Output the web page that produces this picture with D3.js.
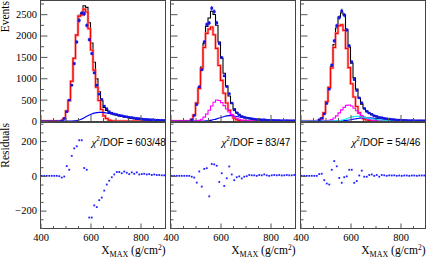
<!DOCTYPE html>
<html><head><meta charset="utf-8">
<script src="https://cdn.jsdelivr.net/npm/d3@7"></script>
<style>body{margin:0;background:#fff}svg{display:block}</style>
</head><body><svg id="c" width="426" height="259"></svg>
<script>
const xmax = [405,415,425,435,445,455,465,475,485,495,505,515,525,535,545,555,565,575,585,595,605,615,625,635,645,655,665,675,685,695,705,715,725,735,745,755,765,775,785,795,805,815,825,835,845,855,865,875,885,895];

// Panel 1
const data1 = [0,0,0,0,0,0,0,0,5,60,217,489,839,1344,1849,2354,2524,2510,2237,1903,1578,1126,839,629,505,350,287,217,185,165,150,135,122,110,98,88,78,70,62,55,48,42,37,32,28,24,21,18,16,14];
const black1 = [0,0,0,0,0,0,0,0,0,60,230,480,930,1473,2020,2475,2528,2698,2660,2300,1825,1375,987,683,473,317,248,196,168,150,135,120,106,93,81,70,60,51,43,36,30,25,21,17,14,11,9,7,6,5];
const red1 = [0,0,0,0,0,0,0,0,0,60,230,480,930,1470,2010,2450,2480,2620,2550,2160,1660,1190,790,480,270,120,60,20,5,0,0,0,0,0,0,0,0,0,0,0,0,0,0,0,0,0,0,0,0,0];
const blue1 = [0,0,0,0,0,0,0,0,0,0,0,0,0,3,10,25,48,78,110,140,165,185,197,203,203,197,188,176,163,150,135,120,106,93,81,70,60,51,43,36,30,25,21,17,14,11,9,7,6,5];
const res1 = [0,0,0,0,0,0,0,-2,-10,-4,56,35,115,158,170,205,205,45,35,-240,-240,-170,-180,-140,-125,-85,-50,-28,-8,8,22,22,15,25,18,10,20,12,20,8,10,12,8,10,5,8,5,5,3,3];

// Panel 2
const data2 = [0,0,0,0,0,0,0,0,30,130,386,800,1198,1850,2259,2294,2638,2559,2298,1815,1485,1058,806,639,420,259,192,144,100,85,71,65,53,44,35,35,28,29,20,14,15,15,11,11,7,7,8,6,5,7];
const black2 = [0,0,0,0,0,0,0,0,35,140,425,775,1260,1810,2215,2412,2570,2493,2240,1850,1470,1116,820,585,412,284,200,147,115,90,73,60,50,41,35,30,25,21,17,14,12,10,8,6,5,4,3,3,2,2];
const red2 = [0,0,0,0,0,0,0,0,35,140,420,760,1220,1720,2050,2150,2200,2020,1700,1300,950,650,420,250,140,70,30,12,5,0,0,0,0,0,0,0,0,0,0,0,0,0,0,0,0,0,0,0,0,0];
const magenta2 = [0,0,0,0,0,0,0,0,0,0,5,15,40,90,160,250,350,440,490,480,430,360,280,210,150,100,65,40,25,15,8,4,2,0,0,0,0,0,0,0,0,0,0,0,0,0,0,0,0,0];
const blue2 = [0,0,0,0,0,0,0,0,0,0,0,0,0,0,5,12,20,33,50,70,90,106,120,125,122,114,105,95,85,75,65,56,48,41,35,30,25,21,17,14,12,10,8,6,5,4,3,3,2,2];
const res2 = [0,0,0,0,0,0,0,0,-5,-10,-39,25,-62,40,44,-118,68,66,58,-35,15,-58,-14,54,8,-25,-8,-3,-15,-5,-2,5,3,3,0,5,3,8,3,0,3,5,3,5,2,3,5,3,3,5];

// Panel 3
const data3 = [0,0,0,0,0,0,0,28,67,165,411,745,1310,1875,2230,2420,2575,2480,2132,1760,1385,970,715,540,425,293,225,186,157,121,107,80,77,63,51,46,38,33,24,22,16,16,13,8,9,7,4,6,5,5];
const black3 = [0,0,0,0,0,0,0,18,55,190,455,795,1275,1790,2175,2431,2535,2485,2135,1725,1350,1010,745,538,395,298,230,181,149,121,102,85,72,60,51,43,36,30,24,20,16,14,11,8,7,5,4,4,3,3];
const red3 = [0,0,0,0,0,0,0,18,55,190,450,780,1240,1720,2050,2230,2250,2120,1700,1250,870,560,340,190,100,50,22,8,3,0,0,0,0,0,0,0,0,0,0,0,0,0,0,0,0,0,0,0,0,0];
const magenta3 = [0,0,0,0,0,0,0,0,0,0,5,15,35,70,120,190,260,320,365,375,350,300,240,180,130,90,60,38,24,14,8,4,2,0,0,0,0,0,0,0,0,0,0,0,0,0,0,0,0,0];
const cyan3 = [0,0,0,0,0,0,0,0,0,0,0,0,0,0,5,11,20,36,55,76,95,105,110,105,95,85,73,62,52,42,34,27,22,17,13,10,8,6,4,3,2,2,1,0,0,0,0,0,0,0];
const blue3 = [0,0,0,0,0,0,0,0,0,0,0,0,0,0,0,0,5,9,15,24,35,45,55,63,70,73,75,73,70,65,60,54,48,43,38,33,28,24,20,17,14,12,10,8,7,5,4,4,3,3];
const res3 = [0,0,0,0,0,0,0,10,12,-25,-44,-50,35,85,55,-12,-40,-8,-3,35,35,-40,-30,2,30,-5,-5,5,8,0,5,-5,5,3,0,3,2,3,0,2,0,2,2,0,2,2,0,2,2,2];

const chiLabels = ['603/48', '83/47', '54/46'];
const yTicksTop = [0,500,1000,1500,2000,2500];
const yMinorTop = [250,750,1250,1750,2250,2750];
const yTicksRes = [-200,0,200];
const yMinorRes = [-300,-250,-150,-100,-50,50,100,150,250,300];
const xTicks = [400,600,800];
const xMinor = [450,500,550,650,700,750,850];

const panels = [
  {left:40.5, data:data1, res:res1, chi:chiLabels[0], comps:[
    {v:black1,c:'#000',smooth:false},{v:red1,c:'#ff0000',smooth:false,glow:true},{v:blue1,c:'#0000ff',smooth:true}]},
  {left:170.5, data:data2, res:res2, chi:chiLabels[1], comps:[
    {v:black2,c:'#000',smooth:false},{v:red2,c:'#ff0000',smooth:false,glow:true},{v:blue2,c:'#0000ff',smooth:true},{v:magenta2,c:'#ff00ff',smooth:false}]},
  {left:300.5, data:data3, res:res3, chi:chiLabels[2], comps:[
    {v:black3,c:'#000',smooth:false},{v:red3,c:'#ff0000',smooth:false,glow:true},{v:blue3,c:'#0000ff',smooth:true},{v:magenta3,c:'#ff00ff',smooth:false},{v:cyan3,c:'#00e8f0',smooth:true}]}
];

const W = 125;
const svg = d3.select('#c');
const yTop = d3.scaleLinear().domain([0,2820]).range([121,0.5]);
const yRes = d3.scaleLinear().domain([-303,307]).range([228.5,122.5]);
const serif = 'Liberation Serif, Times New Roman, serif';

panels.forEach((p,i)=>{
  const x = d3.scaleLinear().domain([400,900]).range([p.left, p.left+W]);
  const g = svg.append('g');
  const clipId = 'clip'+i;
  svg.append('clipPath').attr('id',clipId).append('rect')
    .attr('x',p.left).attr('y',0).attr('width',W).attr('height',122);

  const plot = g.append('g').attr('clip-path',`url(#${clipId})`);
  p.comps.forEach(cm=>{
    const pts = xmax.map((xv,k)=>({x:xv,v:cm.v[k]}));
    const full = [{x:400,v:cm.v[0]}, ...pts, {x:900,v:cm.v[cm.v.length-1]}];
    const line = d3.line().x(d=>x(d.x)).y(d=>yTop(d.v))
      .curve(cm.smooth ? d3.curveMonotoneX : d3.curveStep);
    if (cm.glow) {
      plot.append('path').attr('d',line(full)).attr('fill','none')
        .attr('stroke','#ff8080').attr('stroke-width',2.6).attr('opacity',0.8);
    }
    plot.append('path').attr('d',line(full)).attr('fill','none')
      .attr('stroke',cm.c).attr('stroke-width',1.1);
  });
  // data points
  const dp = plot.append('g');
  xmax.forEach((xv,k)=>{
    const v = p.data[k];
    if (!v) return;
    const err = Math.max(Math.sqrt(v), 25);
    dp.append('line').attr('x1',x(xv)).attr('x2',x(xv))
      .attr('y1',yTop(v-err)).attr('y2',yTop(v+err))
      .attr('stroke','#2a2aff').attr('stroke-width',1.2);
    dp.append('rect').attr('x',x(xv)-1.4).attr('y',yTop(v)-1.2).attr('width',2.8).attr('height',2.4)
      .attr('fill','#1515e0');
  });

  // top frame
  g.append('rect').attr('x',p.left).attr('y',0.5).attr('width',W).attr('height',121)
    .attr('fill','none').attr('stroke','#444').attr('stroke-width',1);

  // top y axis
  g.append('g').attr('transform',`translate(${p.left},0)`)
    .call(d3.axisLeft(yTop).tickValues(yTicksTop).tickSize(-7).tickPadding(3.5)
      .tickFormat(i===0 ? d3.format('d') : ''));
  g.append('g').attr('transform',`translate(${p.left},0)`)
    .call(d3.axisLeft(yTop).tickValues(yMinorTop).tickSize(-3.5).tickFormat(''));
  g.append('g').attr('transform',`translate(0,121)`)
    .call(d3.axisBottom(x).tickValues(xTicks).tickSize(-6).tickFormat(''));
  g.append('g').attr('transform',`translate(0,121)`)
    .call(d3.axisBottom(x).tickValues(xMinor).tickSize(-3).tickFormat(''));

  // residual panel
  const rp = g.append('g');
  rp.selectAll('rect.r').data(xmax).enter().append('rect')
    .attr('x',(xv)=>x(xv)-0.9).attr('y',(xv,k)=>yRes(p.res[k])-0.9)
    .attr('width',1.8).attr('height',1.8).attr('fill','#2020ff');
  g.append('rect').attr('x',p.left).attr('y',122.5).attr('width',W).attr('height',106)
    .attr('fill','none').attr('stroke','#444').attr('stroke-width',1);
  g.append('g').attr('transform',`translate(${p.left},0)`)
    .call(d3.axisLeft(yRes).tickValues(yTicksRes).tickSize(-6).tickPadding(3.5)
      .tickFormat(i===0 ? d3.format('d') : ''));
  g.append('g').attr('transform',`translate(${p.left},0)`)
    .call(d3.axisLeft(yRes).tickValues(yMinorRes).tickSize(-3).tickFormat(''));
  g.append('g').attr('transform',`translate(0,228.5)`)
    .call(d3.axisBottom(x).tickValues(xTicks).tickSize(-5).tickPadding(5.5).tickFormat(d3.format('d')));
  g.append('g').attr('transform',`translate(0,228.5)`)
    .call(d3.axisBottom(x).tickValues(xMinor).tickSize(-2.5).tickFormat(''));

  // chi2 label
  const t = g.append('text').attr('x',p.left+51).attr('y',145.5)
    .attr('font-family','Liberation Sans, Arial, sans-serif').attr('font-size',10).attr('fill','#000');
  t.append('tspan').attr('font-family',serif).attr('font-style','italic').attr('font-size',11).text('χ');
  t.append('tspan').attr('font-size',6.5).attr('dy',-4.5).text('2');
  t.append('tspan').attr('dy',4.5).text('/DOF = '+p.chi);

  // x title
  const xt = g.append('text').attr('x',p.left+W).attr('y',254).attr('text-anchor','end')
    .attr('font-family',serif).attr('font-size',11.5).attr('fill','#000');
  xt.append('tspan').text('X');
  xt.append('tspan').attr('font-size',8).attr('dy',3).text('MAX');
  xt.append('tspan').attr('dy',-3).text(' (g/cm');
  xt.append('tspan').attr('font-size',7.5).attr('dy',-4.5).text('2');
  xt.append('tspan').attr('dy',4.5).text(')');
});

svg.selectAll('.domain').remove();
svg.selectAll('.tick line').attr('stroke','#555');
svg.selectAll('.tick text').attr('font-family',serif).attr('font-size',10.5).attr('fill','#000');

svg.append('text').attr('transform','translate(9,1) rotate(-90)').attr('text-anchor','end')
  .attr('font-family',serif).attr('font-size',11.5).text('Events');
svg.append('text').attr('transform','translate(9,123) rotate(-90)').attr('text-anchor','end')
  .attr('font-family',serif).attr('font-size',11.5).text('Residuals');
</script></body></html>
